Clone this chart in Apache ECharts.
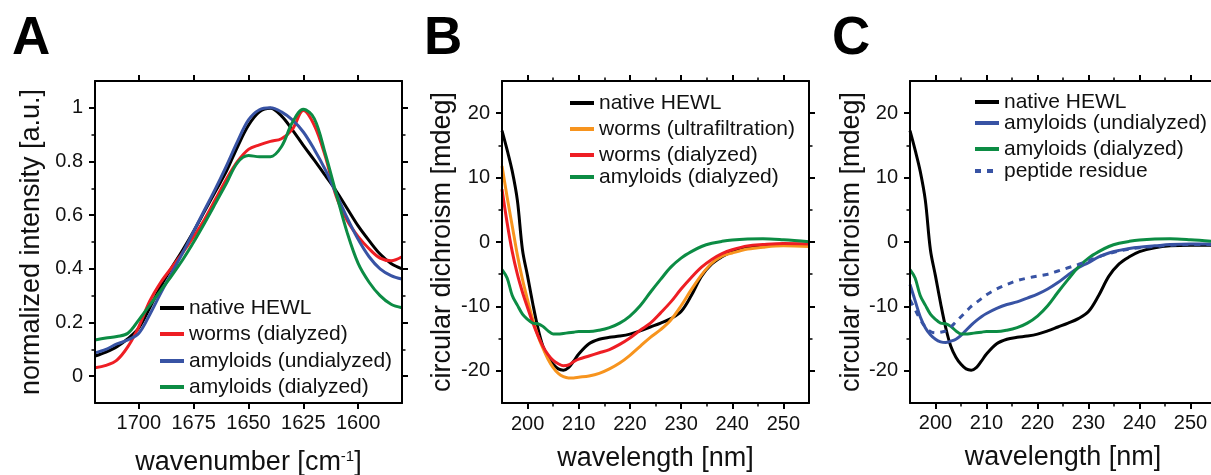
<!DOCTYPE html>
<html><head><meta charset="utf-8">
<script src="https://cdn.jsdelivr.net/npm/echarts@6/dist/echarts.min.js"></script>
<style>html,body{margin:0;padding:0;background:#fff}#c{width:1211px;height:475px}</style>
</head><body><div id="c"></div><script>
const FONT = '"Liberation Sans", Arial, Helvetica, sans-serif';

// ---------- Panel A: normalized IR intensity ----------
const irWavenumber = [1720,1715,1710,1705,1700,1695,1690,1685,1680,1675,1670,1665,1660,1655,1650,1645,1640,1635,1630,1625,1620,1615,1610,1605,1600,1595,1590,1585,1580];
const irNative     = [0.075,0.09,0.11,0.14,0.18,0.255,0.335,0.405,0.47,0.54,0.615,0.69,0.765,0.855,0.935,0.985,0.998,0.97,0.918,0.86,0.805,0.748,0.69,0.625,0.56,0.505,0.455,0.42,0.40];
const irWorms      = [0.031,0.04,0.06,0.11,0.185,0.28,0.35,0.405,0.46,0.52,0.585,0.66,0.735,0.80,0.845,0.862,0.875,0.885,0.92,0.99,0.935,0.82,0.67,0.58,0.52,0.475,0.44,0.43,0.445];
const irAmyUndial  = [0.087,0.10,0.12,0.135,0.16,0.23,0.31,0.385,0.46,0.54,0.62,0.70,0.785,0.875,0.955,0.993,1.0,0.985,0.955,0.91,0.845,0.77,0.68,0.59,0.51,0.445,0.40,0.375,0.362];
const irAmyDial    = [0.135,0.142,0.148,0.16,0.21,0.265,0.32,0.375,0.434,0.50,0.571,0.645,0.72,0.796,0.822,0.818,0.818,0.855,0.945,0.995,0.96,0.83,0.68,0.535,0.42,0.35,0.30,0.268,0.255];
const irXTicks = [1700,1675,1650,1625,1600];
const irYTicks = [0,0.2,0.4,0.6,0.8,1];
const irYMinor = [0.1,0.3,0.5,0.7,0.9];

// ---------- Panels B and C: circular dichroism ----------
const cdWavelength = [195,196,197,198,199,200,201,202,203,204,205,206,207,208,209,210,212,214,216,218,220,222,224,226,228,230,232,234,236,238,240,243,246,250,255];
const cdNative     = [17.3,14.3,11.0,6.5,-1.2,-5.3,-9.5,-13.3,-16.2,-17.9,-19.0,-19.7,-19.9,-19.5,-18.5,-17.4,-15.8,-15.1,-14.8,-14.6,-14.3,-13.8,-13.2,-12.6,-11.9,-10.8,-8.3,-5.3,-3.4,-2.3,-1.5,-0.9,-0.6,-0.5,-0.5];
const cdWormsUltra = [11.8,7.0,2.5,-2.0,-5.8,-9.0,-12.0,-14.5,-16.5,-18.2,-19.5,-20.4,-20.9,-21.1,-21.1,-21.0,-20.8,-20.4,-19.7,-18.8,-17.6,-16.2,-14.8,-13.6,-12.1,-9.9,-7.4,-5.1,-3.3,-2.2,-1.7,-1.1,-0.8,-0.6,-0.7];
const cdWormsDial  = [8.2,3.0,-1.5,-5.0,-7.8,-10.2,-12.5,-14.5,-16.2,-17.5,-18.4,-18.9,-19.2,-19.1,-18.6,-18.2,-17.7,-17.2,-16.7,-15.9,-14.9,-13.7,-12.6,-11.0,-9.3,-7.3,-5.5,-3.9,-2.7,-1.8,-1.2,-0.6,-0.4,-0.25,-0.3];
const cdAmyDial    = [-4.3,-5.6,-8.3,-9.8,-11.2,-12.0,-12.6,-12.7,-13.1,-13.8,-14.3,-14.3,-14.2,-14.1,-14.0,-13.9,-13.9,-13.7,-13.3,-12.6,-11.5,-9.9,-7.8,-5.8,-3.9,-2.5,-1.5,-0.7,-0.2,0.1,0.3,0.45,0.5,0.35,0.05];
const cdAmyUndial  = [-6.6,-9.1,-11.6,-13.3,-14.4,-15.1,-15.5,-15.6,-15.4,-15.1,-14.5,-13.7,-12.9,-12.2,-11.6,-11.1,-10.3,-9.7,-9.3,-8.7,-8.1,-7.3,-6.3,-5.1,-4.0,-3.2,-2.3,-1.7,-1.3,-1.0,-0.8,-0.6,-0.4,-0.3,-0.3];
const cdPeptide    = [-9.0,-10.5,-12.0,-13.2,-13.9,-14.1,-14.0,-13.8,-13.2,-12.4,-11.6,-10.8,-10.0,-9.4,-8.8,-8.2,-7.3,-6.6,-6.0,-5.6,-5.3,-5.0,-4.5,-4.0,-3.5,-2.9,-2.3,-1.8,-1.4,-1.1,-0.9,-0.7,-0.5,-0.4,-0.4];
const cdXTicks = [200,210,220,230,240,250];
const cdXMinor = [205,215,225,235,245];
const cdYTicks = [-20,-10,0,10,20];
const cdYMinor = [-15,-5,5,15];

const COL = {black:'#000000', red:'#ee1e24', blue:'#3853a4', green:'#0c8c44', orange:'#f7941e'};

const grids = [
  {left:95, top:81, width:307, height:322},
  {left:502, top:81, width:307, height:322},
  {left:910, top:81, width:306, height:322}
].map(g => Object.assign(g, {outerBoundsMode:'none', containLabel:false}));

const xAxes = [], yAxes = [];
function addAxes(list, dim, g, cfg) {
  const isX = dim === 'x';
  const mainPos = isX ? 'bottom' : 'left', oppPos = isX ? 'top' : 'right';
  const base = {type:'value', gridIndex:g, min:cfg.min, max:cfg.max, inverse:!!cfg.inverse, splitLine:{show:false}, z:5, silent:true};
  const line = {show:true, onZero:false, lineStyle:{color:'#000', width:2}};
  const majT = {show:true, inside:false, length:6, customValues:cfg.major, lineStyle:{color:'#000', width:2}};
  const mainIdx = list.length;
  list.push(Object.assign({}, base, {
    position:mainPos, axisLine:line, axisTick:majT,
    axisLabel:{show:true, customValues:cfg.major, margin:cfg.margin, fontSize:20, color:'#111', fontFamily:FONT, formatter:v => String(v)},
    name:cfg.name, nameLocation:'middle', nameGap:cfg.nameGap,
    nameTextStyle:{fontSize:27, color:'#111', fontFamily:FONT, rich:{sup:{fontSize:15, fontFamily:FONT, color:'#111', verticalAlign:'top', padding:[0,0,12,0]}}}
  }));
  list.push(Object.assign({}, base, {position:oppPos, axisLine:line, axisTick:majT, axisLabel:{show:false}}));
  if (cfg.minor) {
    const minT = {show:true, inside:false, length:3.5, customValues:cfg.minor, lineStyle:{color:'#000', width:1.5}};
    list.push(Object.assign({}, base, {position:mainPos, axisLine:{show:false, onZero:false}, axisTick:minT, axisLabel:{show:false}}));
    list.push(Object.assign({}, base, {position:oppPos, axisLine:{show:false, onZero:false}, axisTick:minT, axisLabel:{show:false}}));
  }
  return mainIdx;
}

const axA_x = addAxes(xAxes, 'x', 0, {min:1580, max:1720, inverse:true, major:irXTicks, margin:10, name:'wavenumber [cm{sup|-1}]', nameGap:46});
const axA_y = addAxes(yAxes, 'y', 0, {min:-0.1, max:1.1, major:irYTicks, minor:irYMinor, margin:12, name:'normalized intensity [a.u.]', nameGap:50});
const axB_x = addAxes(xAxes, 'x', 1, {min:195, max:255, major:cdXTicks, minor:cdXMinor, margin:11, name:'wavelength [nm]', nameGap:42});
const axB_y = addAxes(yAxes, 'y', 1, {min:-25, max:25, major:cdYTicks, minor:cdYMinor, margin:12, name:'circular dichroism [mdeg]', nameGap:46});
const axC_x = addAxes(xAxes, 'x', 2, {min:195, max:255, major:cdXTicks, minor:cdXMinor, margin:10, name:'wavelength [nm]', nameGap:41});
const axC_y = addAxes(yAxes, 'y', 2, {min:-25, max:25, major:cdYTicks, minor:cdYMinor, margin:12, name:'circular dichroism [mdeg]', nameGap:44});

function line(name, xs, ys, xi, yi, color, dash) {
  return {type:'line', name, xAxisIndex:xi, yAxisIndex:yi, data:xs.map((x,i)=>[x, ys[i]]),
    symbol:'none', smooth:0.35, clip:true, silent:true,
    lineStyle:{color, width:3, type: dash || 'solid', cap:'butt'}, itemStyle:{color}};
}

const series = [
  line('native HEWL', irWavenumber, irNative, axA_x, axA_y, COL.black),
  line('worms (dialyzed)', irWavenumber, irWorms, axA_x, axA_y, COL.red),
  line('amyloids (undialyzed)', irWavenumber, irAmyUndial, axA_x, axA_y, COL.blue),
  line('amyloids (dialyzed)', irWavenumber, irAmyDial, axA_x, axA_y, COL.green),

  line('native HEWL', cdWavelength, cdNative, axB_x, axB_y, COL.black),
  line('worms (ultrafiltration)', cdWavelength, cdWormsUltra, axB_x, axB_y, COL.orange),
  line('worms (dialyzed)', cdWavelength, cdWormsDial, axB_x, axB_y, COL.red),
  line('amyloids (dialyzed)', cdWavelength, cdAmyDial, axB_x, axB_y, COL.green),

  line('native HEWL', cdWavelength, cdNative, axC_x, axC_y, COL.black),
  line('amyloids (undialyzed)', cdWavelength, cdAmyUndial, axC_x, axC_y, COL.blue),
  line('amyloids (dialyzed)', cdWavelength, cdAmyDial, axC_x, axC_y, COL.green),
  line('peptide residue', cdWavelength, cdPeptide, axC_x, axC_y, COL.blue, [6,6])
];

function legendItem(name, left, top) {
  return {data:[name], left, top, orient:'vertical', padding:0, itemGap:0, itemWidth:24, itemHeight:12,
    selectedMode:false, lineStyle:{width:4}, itemStyle:{opacity:0},
    textStyle:{fontSize:21, color:'#111', fontFamily:FONT}};
}
const legends = [
  legendItem('native HEWL', 158, 297.5),
  legendItem('worms (dialyzed)', 158, 323.5),
  legendItem('amyloids (undialyzed)', 158, 350.5),
  legendItem('amyloids (dialyzed)', 158, 376.5),
  legendItem('native HEWL', 568, 92.5),
  legendItem('worms (ultrafiltration)', 568, 118.5),
  legendItem('worms (dialyzed)', 568, 144.5),
  legendItem('amyloids (dialyzed)', 568, 166.5),
  legendItem('native HEWL', 973, 91.5),
  legendItem('amyloids (undialyzed)', 973, 112.5),
  legendItem('amyloids (dialyzed)', 973, 138.5),
  legendItem('peptide residue', 973, 160.5)
];

function letter(t, x) {
  return {type:'text', x, y:39, silent:true, style:{text:t, font:'bold 53px ' + FONT, fill:'#000', verticalAlign:'middle', align:'left'}};
}

const chart = echarts.init(document.getElementById('c'), null, {renderer:'canvas'});
chart.setOption({
  animation:false,
  backgroundColor:'#fff',
  grid:grids,
  xAxis:xAxes,
  yAxis:yAxes,
  legend:legends,
  series,
  graphic:[letter('A', 12), letter('B', 424), letter('C', 832)]
});
</script></body></html>
